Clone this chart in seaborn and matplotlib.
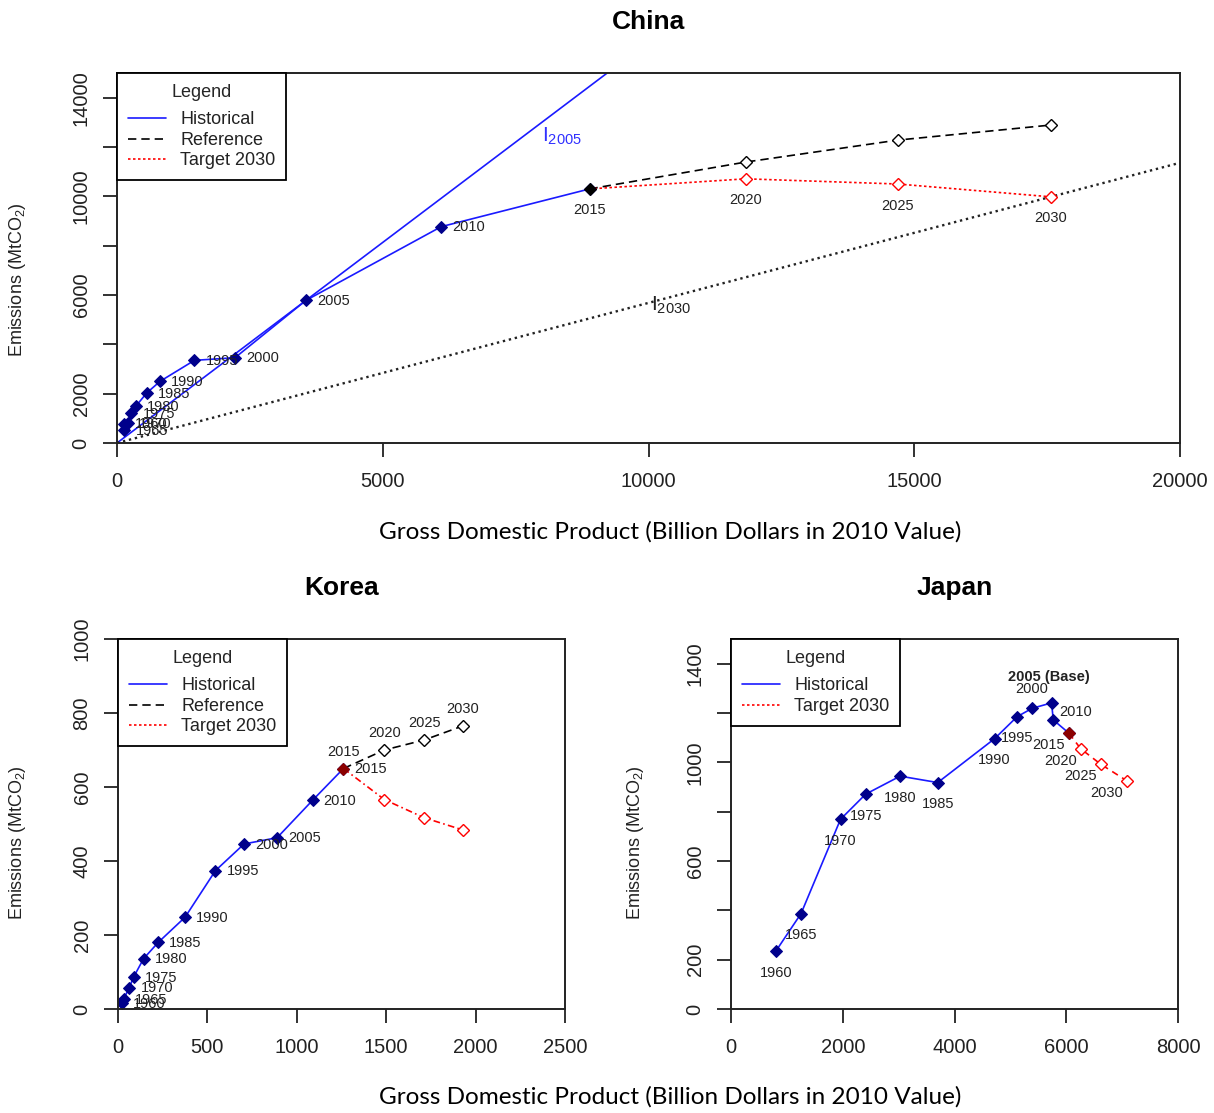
import numpy as np
import pandas as pd
import matplotlib
matplotlib.use('Agg')
import matplotlib.pyplot as plt
import seaborn as sns
from matplotlib.lines import Line2D

'''
data read off the figure (GDP in billion 2010 USD, emissions in MtCO2)
'''
hist_years = [1960, 1965, 1970, 1975, 1980, 1985, 1990, 1995, 2000, 2005, 2010, 2015]
proj_years = [2015, 2020, 2025, 2030]

china_gdp = [125, 140, 210, 270, 350, 560, 810, 1456, 2222, 3554, 6100, 8890]
china_emis = [780, 520, 800, 1200, 1480, 2030, 2500, 3350, 3460, 5780, 8770, 10300]
china_proj_gdp = [8890, 11830, 14690, 17570]
china_ref_emis = [10300, 11390, 12280, 12890]
china_tgt_emis = [10300, 10710, 10500, 9980]

korea_gdp = [21, 32, 63, 87, 143, 225, 375, 545, 705, 890, 1088, 1261]
korea_emis = [16, 27, 58, 86, 136, 180, 248, 374, 446, 463, 564, 650]
korea_proj_gdp = [1261, 1490, 1712, 1928]
korea_ref_emis = [650, 700, 727, 765]
korea_tgt_emis = [650, 566, 517, 484]

japan_gdp = [804, 1254, 1960, 2410, 3027, 3700, 4718, 5120, 5390, 5737, 5768, 6049]
japan_emis = [235, 387, 769, 871, 944, 918, 1096, 1185, 1219, 1241, 1172, 1118]
japan_proj_gdp = [6049, 6259, 6619, 7086]
japan_tgt_emis = [1118, 1055, 992, 925]

'''
style
'''
sns.set_style("ticks")
plt.rcParams['font.family'] = ['Liberation Sans', 'DejaVu Sans']
plt.rcParams['mathtext.fontset'] = 'custom'
plt.rcParams['mathtext.rm'] = 'Liberation Sans'
plt.rcParams['mathtext.it'] = 'Liberation Sans:italic'

txt_col = '#222222'
hist_col = '#1a1aff'
mark_col = '#00008b'
lab_fs = 10.5

# label offsets (points) by position code
OFFS = {'r': (8, -0.5, 'left'), 'b': (0, -15.5, 'center'), 'a': (0, 12, 'center'),
        'bl': (-14.5, -8.5, 'center'), 'a2': (-2, 18.5, 'center'), 'ru': (4.5, 6, 'left'),
        'a3': (0, 14, 'center')}


def label_years(ax, xs, ys, years, pos, **kw):
    for x, y, yr, p in zip(xs, ys, years, pos):
        dx, dy, ha = OFFS[p]
        ax.annotate(str(yr), (x, y), xytext=(dx, dy), textcoords='offset points',
                    ha=ha, va='center', fontsize=lab_fs, color=txt_col, **kw)


def hist_line(ax, gdp, emis):
    sns.lineplot(x=gdp, y=emis, ax=ax, sort=False, estimator=None, color=hist_col, lw=1.2,
                 marker='D', markersize=6, markerfacecolor=mark_col, markeredgecolor=mark_col)


def proj_line(ax, gdp, emis, col, ls):
    sns.lineplot(x=gdp, y=emis, ax=ax, sort=False, estimator=None, color=col, lw=1.2,
                 linestyle=ls, marker='D', markersize=6, markerfacecolor='white',
                 markeredgecolor=col, markeredgewidth=1.0, markevery=[1, 2, 3])


def last_point(ax, x, y, col):
    sns.lineplot(x=[x], y=[y], ax=ax, estimator=None, color=col, lw=0, marker='D',
                 markersize=6, markerfacecolor=col, markeredgecolor=col)


def style_axes(ax, xlim, ylim, xticks, yticks, ylabels):
    ax.set_xlim(xlim)
    ax.set_ylim(ylim)
    ax.set_xticks(xticks)
    ax.set_xticklabels([str(t) for t in xticks])
    ax.set_yticks(yticks)
    ax.set_yticklabels(ylabels, rotation=90, va='center')
    ax.tick_params(axis='both', length=10, width=1.3, colors=txt_col, labelsize=14.5,
                   direction='out')
    ax.tick_params(axis='x', pad=11)
    ax.tick_params(axis='y', pad=9)
    for s in ax.spines.values():
        s.set_visible(True)
        s.set_linewidth(1.4)
        s.set_color(txt_col)
    ax.set_xlabel('')
    ax.set_ylabel('')


def add_legend(ax, with_ref=True):
    handles = [Line2D([], [], color=hist_col, lw=1.2)]
    labels = ['Historical']
    if with_ref:
        handles.append(Line2D([], [], color='black', lw=1.2, linestyle=(0, (5, 3))))
        labels.append('Reference')
    handles.append(Line2D([], [], color='red', lw=1.2, linestyle=(0, (1.5, 1.5))))
    labels.append('Target 2030')
    leg = ax.legend(handles, labels, title='Legend', loc='upper left', borderaxespad=0,
                    fontsize=13, title_fontsize=13, fancybox=False, edgecolor='black',
                    framealpha=1, handlelength=2.1, handletextpad=0.8, labelspacing=0.2,
                    borderpad=0.6)
    leg._legend_box.sep = 7.5
    leg.get_frame().set_linewidth(1.3)
    for t in leg.get_texts():
        t.set_color(txt_col)


fig = plt.figure(figsize=(12.14, 11.13), dpi=100)
W, H = 1214, 1113
ax_c = fig.add_axes([117 / W, 1 - 443 / H, (1180 - 117) / W, (443 - 73) / H])
ax_k = fig.add_axes([118 / W, 1 - 1009 / H, (565 - 118) / W, (1009 - 639) / H])
ax_j = fig.add_axes([731 / W, 1 - 1009 / H, (1178 - 731) / W, (1009 - 639) / H])

'''China'''
xmax_c = 20000
i2005 = china_emis[hist_years.index(2005)] / china_gdp[hist_years.index(2005)]
i2030 = china_tgt_emis[-1] / china_proj_gdp[-1]
xs = np.array([0, xmax_c])
sns.lineplot(x=xs, y=i2005 * xs, ax=ax_c, color=hist_col, lw=1.2)
sns.lineplot(x=xs, y=i2030 * xs, ax=ax_c, color='#222222', lw=1.7, linestyle=(0, (1, 1.6)))
proj_line(ax_c, china_proj_gdp, china_ref_emis, 'black', (0, (5, 3)))
proj_line(ax_c, china_proj_gdp, china_tgt_emis, 'red', (0, (1.5, 1.5)))
hist_line(ax_c, china_gdp, china_emis)
last_point(ax_c, china_gdp[-1], china_emis[-1], 'black')
label_years(ax_c, china_gdp[:-1], china_emis[:-1], hist_years[:-1], ['r'] * 11)
label_years(ax_c, china_proj_gdp, china_tgt_emis, proj_years, ['b'] * 4)
ax_c.text(8000, 12200, 'I$_{2005}$', color='#3030ff', fontsize=15)
ax_c.text(10050, 5350, 'I$_{2030}$', color=txt_col, fontsize=15)
style_axes(ax_c, (0, xmax_c), (0, 15000), list(range(0, 20001, 5000)),
           list(range(0, 14001, 2000)),
           ['0', '2000', '', '6000', '', '10000', '', '14000'])
add_legend(ax_c, True)

'''Korea'''
proj_line(ax_k, korea_proj_gdp, korea_ref_emis, 'black', (0, (5, 3)))
proj_line(ax_k, korea_proj_gdp, korea_tgt_emis, 'red', (0, (4, 2, 1, 2)))
hist_line(ax_k, korea_gdp, korea_emis)
last_point(ax_k, korea_gdp[-1], korea_emis[-1], '#8b0000')
label_years(ax_k, korea_gdp, korea_emis, hist_years, ['r'] * 12)
label_years(ax_k, korea_proj_gdp, korea_ref_emis, proj_years, ['a'] * 4)
style_axes(ax_k, (0, 2500), (0, 1000), list(range(0, 2501, 500)),
           list(range(0, 1001, 200)), [str(v) for v in range(0, 1001, 200)])
add_legend(ax_k, True)

'''Japan'''
proj_line(ax_j, japan_proj_gdp, japan_tgt_emis, 'red', (0, (4, 3)))
hist_line(ax_j, japan_gdp, japan_emis)
last_point(ax_j, japan_gdp[-1], japan_emis[-1], '#8b0000')
j_pos = ['b'] * 8 + ['a3', 'a2', 'ru', 'bl']
for x, y, yr, p in zip(japan_gdp, japan_emis, hist_years, j_pos):
    dx, dy, ha = OFFS[p]
    s = '2005 (Base)' if yr == 2005 else str(yr)
    ax_j.annotate(s, (x, y), xytext=(dx, dy), textcoords='offset points', ha=ha,
                  va='center', fontsize=lab_fs, color=txt_col,
                  fontweight='bold' if yr == 2005 else 'normal')
label_years(ax_j, japan_proj_gdp[1:], japan_tgt_emis[1:], proj_years[1:], ['bl'] * 3)
style_axes(ax_j, (0, 8000), (0, 1500), list(range(0, 8001, 2000)),
           list(range(0, 1401, 200)), ['0', '200', '', '600', '', '1000', '', '1400'])
add_legend(ax_j, False)

'''titles and axis titles'''
for ax, name in [(ax_c, 'China'), (ax_k, 'Korea'), (ax_j, 'Japan')]:
    ax.set_title(name, fontsize=19, fontweight='bold', pad=32, color='black')

ylab = 'Emissions (MtCO$_2$)'
for xpix, ypix in [(18, 280), (18, 843), (635, 843)]:
    fig.text(xpix / W, 1 - ypix / H, ylab, rotation=90, ha='center', va='center',
             fontsize=13, color=txt_col)

xlab = 'Gross Domestic Product (Billion Dollars in 2010 Value)'
for ypix in [532, 1097]:
    fig.text(670 / W, 1 - ypix / H, xlab, ha='center', va='center', fontsize=17.5,
             color='black', family=['Lato', 'DejaVu Sans'])

fig.savefig('out.png', dpi=100)
